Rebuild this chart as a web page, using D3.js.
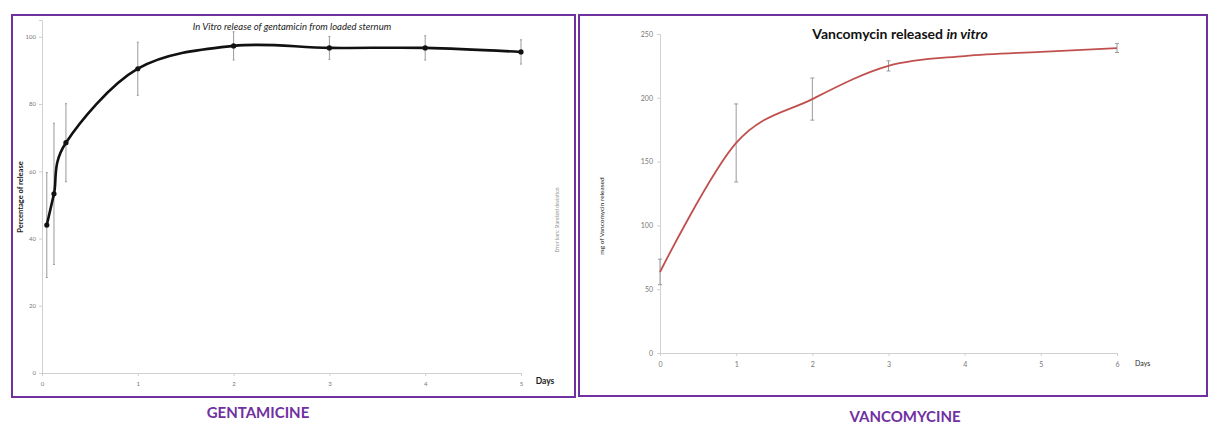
<!DOCTYPE html>
<html>
<head>
<meta charset="utf-8">
<script src="https://cdnjs.cloudflare.com/ajax/libs/d3/7.8.5/d3.min.js"></script>
<style>
	body { margin: 0; background: #fff; }
	svg { display: block; }
	text { font-family: Lato, 'Open Sans', sans-serif; }
</style>
</head>
<body>
<div id="chart"></div>
<script>

// gentamicin: days, % released, SD
var gentaDays = [0.05, 0.125, 0.25, 1, 2, 3, 4, 5]
var gentaRelease = [44, 53.3, 68.5, 90.5, 97.3, 96.7, 96.7, 95.5]
var gentaSD = [15.6, 21, 11.6, 7.9, 4.2, 3.4, 3.6, 3.6]
var gentaYTicks = [0, 20, 40, 60, 80, 100]
var gentaXTicks = [0, 1, 2, 3, 4, 5]

// vancomycin: days, mg released, SD
var vancoDays = [0, 1, 2, 3, 4, 5, 6]
var vancoRelease = [63.5, 164.6, 199, 225, 232.7, 236, 239]
var vancoSD = [10, 30.6, 16.5, 4, 0, 0, 3.5]
var vancoYTicks = [0, 50, 100, 150, 200, 250]
var vancoXTicks = [0, 1, 2, 3, 4, 5, 6]

var purple = '#7030a0'
var axisGray = '#d0d0d0'

var svg = d3.select('#chart')
	.append('svg')
	.attr('width', 1208)
	.attr('height', 425)

// panel frames
svg.append('rect')
	.attr('x', 12).attr('y', 15)
	.attr('width', 563).attr('height', 382)
	.attr('fill', 'none')
	.attr('stroke', purple)
	.attr('stroke-width', 2)

svg.append('rect')
	.attr('x', 579).attr('y', 15)
	.attr('width', 628).attr('height', 381)
	.attr('fill', 'none')
	.attr('stroke', purple)
	.attr('stroke-width', 2)

var makePanel = function(o) {

	var g = svg.append('g')

	// y axis
	var yAxis = d3.axisLeft(o.y)
		.tickValues(o.yTicks)
		.tickSize(3)
		.tickFormat(d3.format('d'))
	var ya = g.append('g')
		.attr('transform', 'translate(' + o.x.range()[0] + ',0)')
		.call(yAxis)
	ya.select('.domain').attr('stroke', axisGray)
	ya.selectAll('.tick line').attr('stroke', axisGray)
	ya.selectAll('.tick text')
		.attr('fill', '#777')
		.attr('font-size', o.tickSize)
		.attr('x', -o.tickPad)

	// x axis
	var xAxis = d3.axisBottom(o.x)
		.tickValues(o.xTicks)
		.tickSize(3)
		.tickFormat(d3.format('d'))
	var xa = g.append('g')
		.attr('transform', 'translate(0,' + o.y(0) + ')')
		.call(xAxis)
	xa.select('.domain').attr('stroke', axisGray)
	xa.selectAll('.tick line').attr('stroke', axisGray)
	xa.selectAll('.tick text')
		.attr('fill', '#777')
		.attr('font-size', o.tickSize)
		.attr('y', o.tickPadX)

	// error bars
	var err = g.append('g').selectAll('g')
		.data(o.days.map(function(d, i) {
			return { day: d, v: o.values[i], sd: o.sd[i] }
		}).filter(function(d) { return d.sd > 0 }))
		.enter()
		.append('g')
		.attr('stroke', '#9a9a9a')
		.attr('stroke-width', 1)

	err.append('line')
		.attr('x1', function(d) { return o.x(d.day) })
		.attr('x2', function(d) { return o.x(d.day) })
		.attr('y1', function(d) { return o.y(d.v + d.sd) })
		.attr('y2', function(d) { return o.y(d.v - d.sd) })
	err.each(function(d) {
		var _this = d3.select(this)
		;[d.v + d.sd, d.v - d.sd].forEach(function(v) {
			_this.append('line')
				.attr('x1', o.x(d.day) - o.cap)
				.attr('x2', o.x(d.day) + o.cap)
				.attr('y1', o.y(v))
				.attr('y2', o.y(v))
		})
	})

	// smoothed line (excel-like)
	var line = d3.line()
		.x(function(d, i) { return o.x(o.days[i]) })
		.y(function(d) { return o.y(d) })
		.curve(d3.curveCatmullRom.alpha(o.alpha))

	g.append('path')
		.datum(o.values)
		.attr('fill', 'none')
		.attr('stroke', o.color)
		.attr('stroke-width', o.lineW)
		.attr('d', line)

	if (o.markers) {
		g.append('g').selectAll('circle')
			.data(o.values)
			.enter()
			.append('circle')
			.attr('cx', function(d, i) { return o.x(o.days[i]) })
			.attr('cy', function(d) { return o.y(d) })
			.attr('r', 2.6)
			.attr('fill', o.color)
	}

	return g
}

// --- gentamicin
var gx = d3.scaleLinear().domain([0, 5]).range([42, 521])
var gy = d3.scaleLinear().domain([0, 105]).range([373, 20])

var gPanel = makePanel({
	x: gx, y: gy,
	days: gentaDays, values: gentaRelease, sd: gentaSD,
	xTicks: gentaXTicks, yTicks: gentaYTicks,
	color: '#111', lineW: 2.6, markers: true, cap: 1, alpha: 0,
	tickSize: 6, tickPad: 6, tickPadX: 9
})

gPanel.append('text')
	.attr('x', 292).attr('y', 30)
	.attr('text-anchor', 'middle')
	.attr('font-size', 9.5)
	.attr('font-style', 'italic')
	.attr('fill', '#222')
	.text('In Vitro release of gentamicin from loaded sternum')

gPanel.append('text')
	.attr('transform', 'translate(23,197) rotate(-90)')
	.attr('text-anchor', 'middle')
	.attr('font-size', 7.5)
	.attr('font-weight', 'bold')
	.attr('fill', '#222')
	.text('Percentage of release')

gPanel.append('text')
	.attr('x', 545).attr('y', 384)
	.attr('text-anchor', 'middle')
	.attr('font-size', 8.5)
	.attr('font-weight', 'bold')
	.attr('fill', '#222')
	.text('Days')

gPanel.append('text')
	.attr('transform', 'translate(559,220) rotate(-90)')
	.attr('text-anchor', 'middle')
	.attr('font-size', 5)
	.attr('fill', '#999')
	.text('Error bars: Standard deviation')

// --- vancomycin
var vx = d3.scaleLinear().domain([0, 6]).range([660, 1117])
var vy = d3.scaleLinear().domain([0, 250]).range([353, 34])

var vPanel = makePanel({
	x: vx, y: vy,
	days: vancoDays, values: vancoRelease, sd: vancoSD,
	xTicks: vancoXTicks, yTicks: vancoYTicks,
	color: '#c0504d', lineW: 1.8, markers: false, cap: 2, alpha: 0,
	tickSize: 7, tickPad: 7, tickPadX: 9
})

var vTitle = vPanel.append('text')
	.attr('x', 900).attr('y', 39)
	.attr('text-anchor', 'middle')
	.attr('font-size', 14)
	.attr('font-weight', 'bold')
	.attr('fill', '#111')
vTitle.append('tspan').text('Vancomycin released ')
vTitle.append('tspan').attr('font-style', 'italic').text('in vitro')

vPanel.append('text')
	.attr('transform', 'translate(604,216) rotate(-90)')
	.attr('text-anchor', 'middle')
	.attr('font-size', 6.5)
	.attr('fill', '#222')
	.text('mg of Vancomycin released')

vPanel.append('text')
	.attr('x', 1135).attr('y', 366)
	.attr('font-size', 7)
	.attr('fill', '#222')
	.text('Days')

// --- bottom captions
svg.append('text')
	.attr('x', 258).attr('y', 418)
	.attr('text-anchor', 'middle')
	.attr('font-size', 15)
	.attr('font-weight', 'bold')
	.attr('fill', purple)
	.text('GENTAMICINE')

svg.append('text')
	.attr('x', 905).attr('y', 422)
	.attr('text-anchor', 'middle')
	.attr('font-size', 15)
	.attr('font-weight', 'bold')
	.attr('fill', purple)
	.text('VANCOMYCINE')

</script>
</body>
</html>
